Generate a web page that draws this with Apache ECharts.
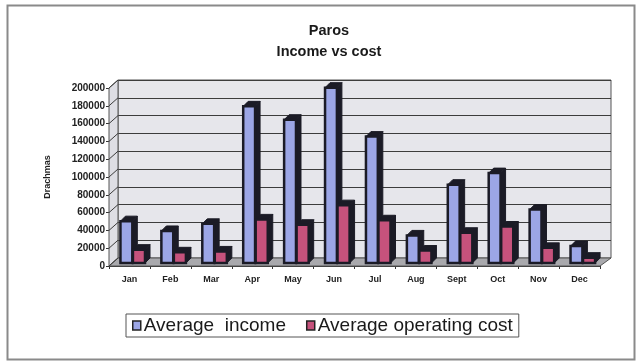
<!DOCTYPE html>
<html>
<head>
<meta charset="utf-8">
<script src="https://cdn.jsdelivr.net/npm/echarts@6/dist/echarts.min.js"></script>
<style>
html,body{margin:0;padding:0;background:#fff;}
#c{width:638px;height:361px;}
</style>
</head>
<body>
<div id="c"></div>
<script>
var months = ['Jan','Feb','Mar','Apr','May','Jun','Jul','Aug','Sept','Oct','Nov','Dec'];
var income = [47000, 36000, 44000, 176000, 161000, 197000, 142000, 31000, 88000, 101000, 60000, 19000];
var cost = [15000, 12000, 13000, 49000, 43000, 65000, 48000, 14000, 34000, 41000, 17000, 6000];
var yTicks = [0,20000,40000,60000,80000,100000,120000,140000,160000,180000,200000];
var seriesNames = ['Average  income', 'Average operating cost'];

var FONT = "'Liberation Sans', Arial, sans-serif";
var FRONT = {left:109, right:38, top:88, bottom:95};
var DEPTH = {dx:9, dy:-8};
var BAR_DX = 5, BAR_DY = -5, SHIFT_Y = -3;
var DARK = '#1b1b26';

function makeRender(offL, offR, face) {
  return function (params, api) {
    var idx = api.value(0), v = api.value(1);
    var top = api.coord([idx, v]);
    var base = api.coord([idx, 0]);
    var W = api.size([1, 0])[0];
    var x0 = top[0] + offL * W, x1 = top[0] + offR * W;
    var y0 = top[1] + SHIFT_Y, yb = base[1] + SHIFT_Y;
    return {
      type: 'group',
      children: [
        {type:'polygon', shape:{points:[[x1,y0],[x1+BAR_DX,y0+BAR_DY],[x1+BAR_DX,yb+BAR_DY],[x1,yb]]},
         style:{fill:DARK, stroke:DARK, lineWidth:1}},
        {type:'polygon', shape:{points:[[x0,y0],[x0+BAR_DX,y0+BAR_DY],[x1+BAR_DX,y0+BAR_DY],[x1,y0]]},
         style:{fill:DARK, stroke:DARK, lineWidth:1}},
        {type:'rect', shape:{x:x0, y:y0, width:x1-x0, height:yb-y0},
         style:{fill:face, stroke:DARK, lineWidth:2.5}}
      ]
    };
  };
}

var incomeColor = '#9ca6e6', costColor = '#c6527c';

var chart = echarts.init(document.getElementById('c'), null, {renderer:'canvas'});
var option = {
  backgroundColor: '#ffffff',
  animation: false,
  title: {
    text: 'Paros\nIncome vs cost',
    left: 324, top: 15, textAlign: 'center',
    textStyle: {fontFamily: FONT, fontSize: 14.5, fontWeight: 'bold', color: '#1a1a1a', lineHeight: 21}
  },
  legend: {
    data: seriesNames,
    left: 126, top: 314,
    orient: 'horizontal',
    icon: 'rect', itemWidth: 8, itemHeight: 9, itemGap: 20,
    padding: [2, 6, 2, 6],
    borderColor: '#555', borderWidth: 1,
    itemStyle: {borderColor: '#222', borderWidth: 1.5},
    textStyle: {fontFamily: FONT, fontSize: 19, color: '#1a1a1a', padding: [0,0,0,-2]}
  },
  grid: [
    {left: FRONT.left, right: FRONT.right, top: FRONT.top, bottom: FRONT.bottom, show: false},
    {left: FRONT.left + DEPTH.dx, right: FRONT.right - DEPTH.dx - 2, top: FRONT.top + DEPTH.dy, bottom: FRONT.bottom - DEPTH.dy,
     show: true, backgroundColor: '#e6e6eb', borderColor: '#555', borderWidth: 1}
  ],
  xAxis: [
    {type: 'category', gridIndex: 0, data: months, boundaryGap: true,
     axisLine: {lineStyle: {color: '#333', width: 1}},
     axisTick: {show: true, length: 3, lineStyle: {color: '#333'}},
     axisLabel: {fontFamily: FONT, fontSize: 9, fontWeight: 'bold', color: '#222', margin: 9}},
    {type: 'value', gridIndex: 1, min: 0, max: 1, show: false}
  ],
  yAxis: [
    {type: 'value', gridIndex: 0, min: 0, max: 200000, interval: 20000,
     name: 'Drachmas', nameLocation: 'middle', nameGap: 57, nameRotate: 90,
     nameTextStyle: {fontFamily: FONT, fontSize: 9, fontWeight: 'bold', color: '#222'},
     axisLine: {show: true, lineStyle: {color: '#333', width: 1}},
     axisTick: {show: true, length: 3, lineStyle: {color: '#333'}},
     splitLine: {show: false},
     axisLabel: {fontFamily: FONT, fontSize: 10, fontWeight: 'bold', color: '#222', margin: 4,
                 formatter: function (v) { return String(v); }}},
    {type: 'value', gridIndex: 1, min: 0, max: 200000, interval: 20000,
     axisLine: {show: false}, axisTick: {show: false}, axisLabel: {show: false},
     splitLine: {show: true, lineStyle: {color: '#3c3c3c', width: 1.2}}}
  ],
  series: [
    {name: seriesNames[0], type: 'custom', xAxisIndex: 0, yAxisIndex: 0, z: 5,
     itemStyle: {color: incomeColor, borderColor: '#222', borderWidth: 1.5},
     renderItem: makeRender(-0.22, 0.07, incomeColor),
     data: income.map(function (v, i) { return [i, v]; })},
    {name: seriesNames[1], type: 'custom', xAxisIndex: 0, yAxisIndex: 0, z: 5,
     itemStyle: {color: costColor, borderColor: '#222', borderWidth: 1.5},
     renderItem: makeRender(0.085, 0.38, costColor),
     data: cost.map(function (v, i) { return [i, v]; })}
  ]
};
chart.setOption(option);

// 3D walls: left wall, floor, wall edges (decoration derived from the axes)
var fx0 = FRONT.left, fx1 = 638 - FRONT.right;
var fy0 = chart.convertToPixel({yAxisIndex: 0}, 200000);
var fyb = chart.convertToPixel({yAxisIndex: 0}, 0);
var g = [];
g.push({type:'rect', left:5, top:3, shape:{width:627, height:354}, style:{fill:'none', stroke:'#8a8a8a', lineWidth:2}, z:0, silent:true});
g.push({type:'polygon', shape:{points:[[fx0,fy0],[fx0+DEPTH.dx,fy0+DEPTH.dy],[fx0+DEPTH.dx,fyb+DEPTH.dy],[fx0,fyb]]},
        style:{fill:'#dedee4', stroke:'#555', lineWidth:1}, z:1});
g.push({type:'polygon', shape:{points:[[fx0,fyb],[fx0+DEPTH.dx,fyb+DEPTH.dy],[fx1+DEPTH.dx+2,fyb+DEPTH.dy],[fx1,fyb]]},
        style:{fill:'#a9a9ad', stroke:'#555', lineWidth:1}, z:1});
yTicks.forEach(function (t) {
  var y = chart.convertToPixel({yAxisIndex: 0}, t);
  g.push({type:'line', shape:{x1:fx0, y1:y, x2:fx0+DEPTH.dx, y2:y+DEPTH.dy}, style:{stroke:'#3c3c3c', lineWidth:1}, z:2});
});
chart.setOption({graphic: {elements: g}});
</script>
</body>
</html>
